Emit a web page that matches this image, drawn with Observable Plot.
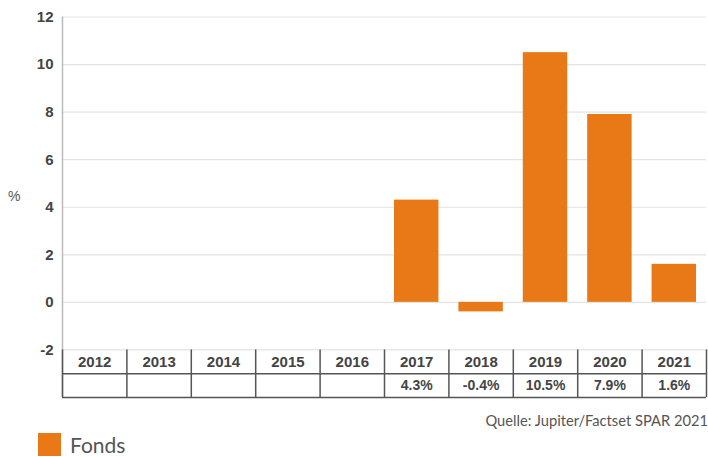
<!DOCTYPE html>
<html><head><meta charset="utf-8">
<script src="https://cdn.jsdelivr.net/npm/d3@7"></script>
<script src="https://cdn.jsdelivr.net/npm/@observablehq/plot@0.6"></script>
<style>
body{margin:0;background:#fff;width:708px;height:457px;overflow:hidden;position:relative;font-family:Lato,"Open Sans",sans-serif}
#pct{position:absolute;left:8px;top:188px;font:14px "Liberation Sans",Arial,sans-serif;color:#555}
#cap{position:absolute;right:0;top:411px;font-size:14.7px;color:#555;white-space:nowrap}
#leg{position:absolute;left:38px;top:432px;display:flex;align-items:center;gap:9px;font-size:21px;color:#555}
#leg i{display:inline-block;width:23px;height:23px;background:#E97817}
</style></head>
<body>
<div id="chart"></div>
<div id="pct">%</div>
<div id="cap">Quelle: Jupiter/Factset SPAR 2021</div>
<div id="leg"><i></i><span>Fonds</span></div>
<script>
const years = ["2012","2013","2014","2015","2016","2017","2018","2019","2020","2021"];
const values = [null,null,null,null,null,4.3,-0.4,10.5,7.9,1.6];
const yTicks = [-2,0,2,4,6,8,10,12];

const data = years.map((y,i)=>({year:y, i, value:values[i]}));
const pad = 0.155;
const fmt = v => v==null ? "" : v.toFixed(1) + "%";
const bars = data.filter(d=>d.value!=null);
const cols = d3.range(0, years.length+1);

const chart = Plot.plot({
  width:708, height:401,
  marginLeft:62, marginRight:2, marginTop:16.5, marginBottom:4,
  x:{type:"linear", domain:[0, years.length], axis:null},
  y:{domain:[-4,12], axis:null},
  style:{fontFamily:"'Liberation Sans', Arial, sans-serif", fontSize:"14px", color:"#444", background:"#fff"},
  marks:[
    Plot.ruleY(yTicks, {x1:0, x2:years.length, stroke:"#e3e3e3", strokeWidth:1.2}),
    Plot.ruleX([0], {y1:-4, y2:12, stroke:"#bbb", strokeWidth:1.5}),
    Plot.text(yTicks, {y:d=>d, text:d=>String(d), frameAnchor:"left", dx:-9, textAnchor:"end", fontWeight:"bold", fill:"#444", fontSize:15}),
    Plot.rectY(bars, {x1:d=>d.i+pad, x2:d=>d.i+1-pad, y:"value", fill:"#E97817"}),
    Plot.ruleX(cols, {y1:-2, y2:-4, stroke:"#555", strokeWidth:1.5}),
    Plot.ruleY([-3,-4], {x1:0, x2:years.length, stroke:"#555", strokeWidth:1.5}),
    Plot.text(data, {x:d=>d.i+0.5, y:-2.5, text:"year", fontWeight:"bold", fill:"#444", fontSize:15}),
    Plot.text(data, {x:d=>d.i+0.5, y:-3.5, text:d=>fmt(d.value), fontWeight:"bold", fill:"#444", fontSize:14})
  ]
});
document.getElementById("chart").appendChild(chart);
</script>
</body></html>
